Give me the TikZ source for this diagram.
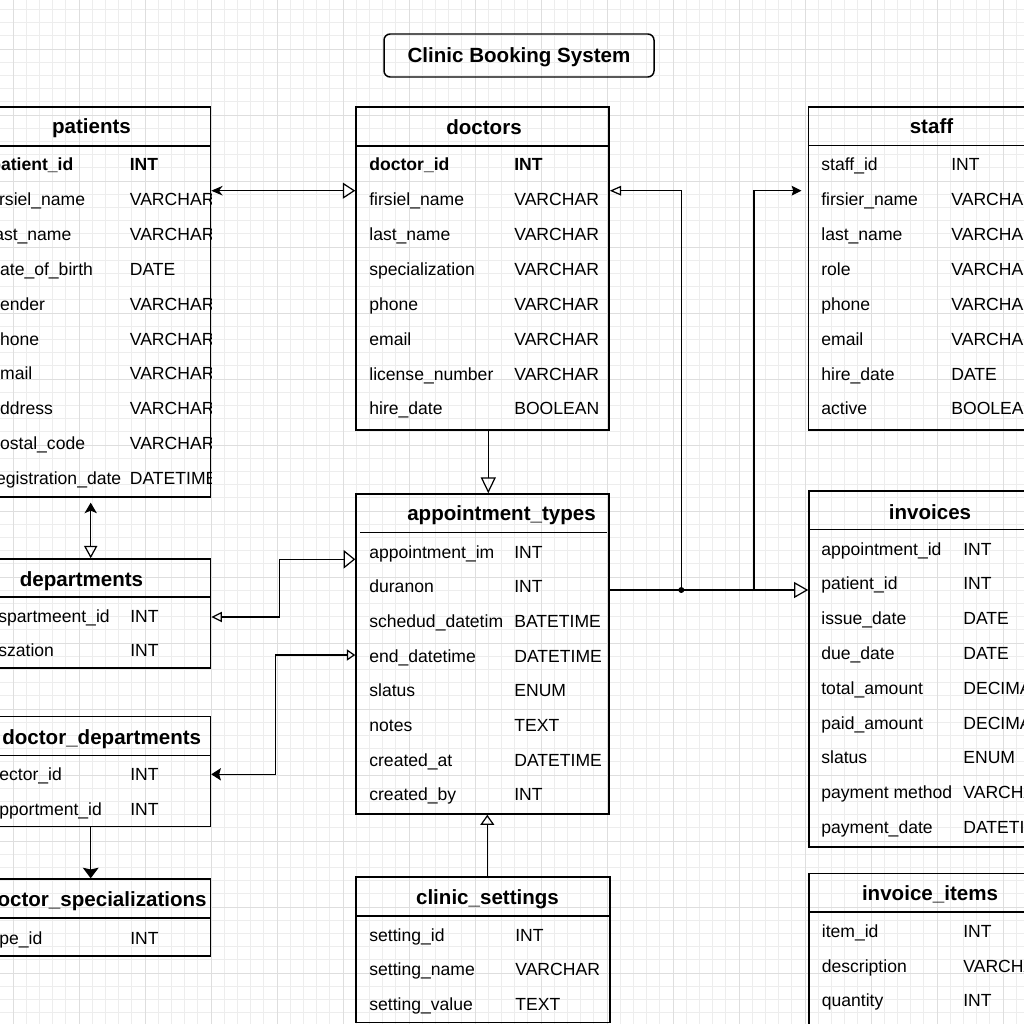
\documentclass[tikz,border=0pt]{standalone}
\usepackage{fontspec}
\setmainfont{Liberation Sans}
\usetikzlibrary{arrows.meta, fit}

\begin{document}
\begin{tikzpicture}[x=0.02cm, y=-0.02cm,
    tbl/.style={draw, line width=0.85pt, inner sep=0pt},
    hdr/.style={font=\fontsize{11.7}{14}\selectfont\bfseries, inner sep=0pt, anchor=base},
    fld/.style={font=\fontsize{10}{12}\selectfont, inner sep=0pt, anchor=base west},
    conn/.style={line width=0.7pt},
    minor/.style={draw=black!7, line width=0.4pt},
    major/.style={draw=black!13, line width=0.5pt}]
    \clip (0,0) rectangle (1024,1024);
    \fill[white] (0,0) rectangle (1024,1024);
    % background grid
    \foreach \g in {13,26.2,...,1024} \draw[minor] (\g,0) -- (\g,1024);
    \foreach \g in {9.4,22.6,...,1024} \draw[minor] (0,\g) -- (1024,\g);
    \foreach \g in {13,79,...,1024} \draw[major] (\g,0) -- (\g,1024);
    \foreach \g in {49,115,...,1024} \draw[major] (0,\g) -- (1024,\g);

    % title
    \node[tbl, rounded corners=3.5pt, fit={(384,34) (654,77)}] (title) {};
    \node[hdr] (title-t) at (519,63) {Clinic Booking System};

    % patients
    \node[tbl, fit={(-28,107) (210.5,497)}] (patients) {};
    \draw[line width=0.85pt] (patients.west |- 0,146) -- (patients.east |- 0,146);
    \node[hdr] (patients-h) at (91.5,133) {patients};
    \begin{scope}
    \clip (patients.north west) rectangle (patients.south east);
    \foreach \nm/\ty [count=\i from 0] in {\textbf{patient\_id}/\textbf{INT}, firsiel\_name/VARCHAR,
        last\_name/VARCHAR, date\_of\_birth/DATE, gender/VARCHAR, phone/VARCHAR, email/VARCHAR,
        address/VARCHAR, postal\_code/VARCHAR, registration\_date/DATETIME} {
        \node[fld] (pat-n\i) at (-10,{171+\i*34.8}) {\nm};
        \node[fld] (pat-t\i) at (129.5,{171+\i*34.8}) {\ty};
    }
    \end{scope}

    % doctors
    \node[tbl, fit={(356,107) (609,430)}] (doctors) {};
    \draw[line width=0.85pt] (doctors.west |- 0,146) -- (doctors.east |- 0,146);
    \node[hdr] (doctors-h) at (484,134) {doctors};
    \foreach \nm/\ty [count=\i from 0] in {\textbf{doctor\_id}/\textbf{INT}, firsiel\_name/VARCHAR,
        last\_name/VARCHAR, specialization/VARCHAR, phone/VARCHAR, email/VARCHAR,
        license\_number/VARCHAR, hire\_date/BOOLEAN} {
        \node[fld] (doc-n\i) at (369,{171+\i*34.85}) {\nm};
        \node[fld] (doc-t\i) at (514,{171+\i*34.85}) {\ty};
    }

    % staff
    \node[tbl, fit={(808.5,107) (1060,430)}] (staff) {};
    \draw[line width=0.85pt] (staff.west |- 0,145.5) -- (staff.east |- 0,145.5);
    \node[hdr] (staff-h) at (931.5,133) {staff};
    \foreach \nm/\ty [count=\i from 0] in {staff\_id/INT, firsier\_name/VARCHAR, last\_name/VARCHAR,
        role/VARCHAR, phone/VARCHAR, email/VARCHAR, hire\_date/DATE, active/BOOLEAN} {
        \node[fld] (stf-n\i) at (821,{171+\i*34.85}) {\nm};
        \node[fld] (stf-t\i) at (951,{171+\i*34.85}) {\ty};
    }

    % appointment types
    \node[tbl, fit={(356,494) (609,814)}] (apptypes) {};
    \draw[line width=0.85pt] (360,532.5) -- (607,532.5);
    \node[hdr] (apptypes-h) at (501.5,520.5) {appointment\_types};
    \foreach \nm/\ty [count=\i from 0] in {appointment\_im/INT, duranon/INT,
        schedud\_datetim/BATETIME, end\_datetime/DATETIME, slatus/ENUM, notes/TEXT,
        created\_at/DATETIME, created\_by/INT} {
        \node[fld] (apt-n\i) at (369,{558.3+\i*34.65}) {\nm};
        \node[fld] (apt-t\i) at (514,{558.3+\i*34.65}) {\ty};
    }

    % invoices
    \node[tbl, fit={(809,491) (1060,847)}] (invoices) {};
    \draw[line width=0.85pt] (invoices.west |- 0,529.5) -- (invoices.east |- 0,529.5);
    \node[hdr] (invoices-h) at (930,519) {invoices};
    \foreach \nm/\ty [count=\i from 0] in {appointment\_id/INT, patient\_id/INT, issue\_date/DATE,
        due\_date/DATE, total\_amount/DECIMAL, paid\_amount/DECIMAL, slatus/ENUM,
        payment method/VARCHAR, payment\_date/DATETIME} {
        \node[fld] (inv-n\i) at (821,{555+\i*34.8}) {\nm};
        \node[fld] (inv-t\i) at (963,{555+\i*34.8}) {\ty};
    }

    % departments
    \node[tbl, fit={(-48,559) (210.5,668)}] (departments) {};
    \draw[line width=0.85pt] (departments.west |- 0,597) -- (departments.east |- 0,597);
    \node[hdr] (departments-h) at (81.5,586) {departments};
    \node[fld] (dep-n0) at (-2,622.5) {spartmeent\_id};
    \node[fld] (dep-t0) at (130,622.5) {INT};
    \node[fld] (dep-n1) at (-2,656.7) {szation};
    \node[fld] (dep-t1) at (130,656.7) {INT};

    % doctor departments
    \node[tbl, fit={(-48,716.5) (210.5,826.5)}] (docdepts) {};
    \draw[line width=0.85pt] (docdepts.west |- 0,755.5) -- (docdepts.east |- 0,755.5);
    \node[hdr, anchor=base west] (docdepts-h) at (2,744) {doctor\_departments};
    \node[fld] (dd-n0) at (-1,780.7) {ector\_id};
    \node[fld] (dd-t0) at (130,780.7) {INT};
    \node[fld] (dd-n1) at (-1,815) {pportment\_id};
    \node[fld] (dd-t1) at (130,815) {INT};

    % doctor specializations
    \node[tbl, fit={(-48,879) (210.5,956)}] (docspecs) {};
    \draw[line width=0.85pt] (docspecs.west |- 0,918) -- (docspecs.east |- 0,918);
    \node[hdr, anchor=base east] (docspecs-h) at (207,906.7) {doctor\_specializations};
    \node[fld] (ds-n0) at (-1,944) {pe\_id};
    \node[fld] (ds-t0) at (130,944) {INT};

    % clinic settings
    \node[tbl, fit={(356,877) (610,1022.5)}] (settings) {};
    \draw[line width=0.85pt] (settings.west |- 0,916) -- (settings.east |- 0,916);
    \node[hdr] (settings-h) at (487.5,904) {clinic\_settings};
    \foreach \nm/\ty [count=\i from 0] in {setting\_id/INT, setting\_name/VARCHAR, setting\_value/TEXT} {
        \node[fld] (set-n\i) at (369,{941+\i*34.7}) {\nm};
        \node[fld] (set-t\i) at (515,{941+\i*34.7}) {\ty};
    }

    % invoice items
    \node[tbl, fit={(809,873.5) (1060,1040)}] (items) {};
    \draw[line width=0.85pt] (items.west |- 0,912) -- (items.east |- 0,912);
    \node[hdr] (items-h) at (930,900) {invoice\_items};
    \foreach \nm/\ty [count=\i from 0] in {item\_id/INT, description/VARCHAR, quantity/INT} {
        \node[fld] (itm-n\i) at (821.5,{937.3+\i*34.7}) {\nm};
        \node[fld] (itm-t\i) at (963,{937.3+\i*34.7}) {\ty};
    }

    % connectors
    \coordinate (jn) at (681.3,590);
    \coordinate (sj) at (754,590);
    \draw[conn, {Stealth[length=6.5pt,width=5.5pt]}-{Triangle[open,length=7pt,width=9pt]}]
        (patients.east |- 0,190.7) -- (doctors.west |- 0,190.7);
    \draw[conn, -{Triangle[open,length=9pt,width=8.5pt]}]
        (488.3,0 |- doctors.south) -- (488.3,0 |- apptypes.north);
    \draw[conn, -{Triangle[open,length=8pt,width=9pt]}]
        (apptypes.east |- jn) -- (invoices.west |- jn);
    \fill (jn) circle (1.7pt);
    \draw[conn, -{Triangle[open,length=6.5pt,width=5.5pt]}] (jn) |- (doctors.east |- 0,190.7);
    \draw[conn, -{Stealth[length=5.5pt,width=5.5pt,inset=0.8pt]}, shorten >=3.6pt] (sj) |- (staff.west |- 0,190.7);
    \draw[conn, {Stealth[length=6pt,width=7pt,inset=1.5pt]}-{Triangle[open,length=7pt,width=7.5pt]}, shorten <=2.8pt]
        (90.7,0 |- patients.south) -- (90.7,0 |- departments.north);
    \draw[conn, {Triangle[open,length=6pt,width=5.8pt]}-{Triangle[open,length=6.6pt,width=10.5pt]}]
        (departments.east |- 0,617) -- (279.3,617) |- (apptypes.west |- 0,559.3);
    \draw[conn, {Stealth[length=5.5pt,width=7pt,inset=1pt]}-{Triangle[open,length=4.8pt,width=6.4pt]}]
        (docdepts.east |- 0,774.3) -- (275.3,774.3) |- (apptypes.west |- 0,655);
    \draw[conn, -{Stealth[length=6pt,width=9pt,inset=1pt]}]
        (90.7,0 |- docdepts.south) -- (90.7,0 |- docspecs.north);
    \draw[conn, -{Triangle[open,length=5.8pt,width=8pt]}]
        (487.3,0 |- settings.north) -- (487.3,0 |- apptypes.south);
\end{tikzpicture}
\end{document}
